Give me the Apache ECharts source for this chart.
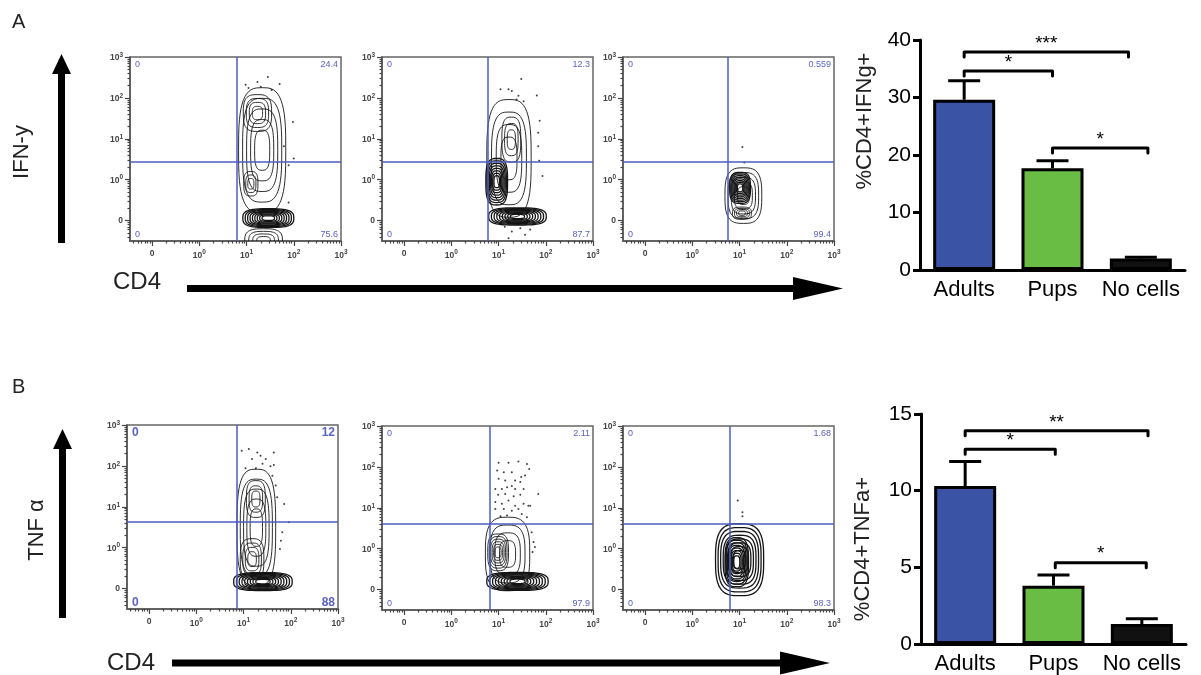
<!DOCTYPE html>
<html>
<head>
<meta charset="utf-8">
<title>CD4 IFN-γ / TNF α</title>
<script src="https://cdn.jsdelivr.net/npm/echarts@6.0.0/dist/echarts.min.js"></script>
<style>
  html, body { margin: 0; padding: 0; background: #fff; }
  #chart { width: 1201px; height: 675px; }
</style>
</head>
<body>
<div id="chart"></div>
<script>
// bar charts
var groups = ['Adults', 'Pups', 'No cells']
var ifngMean = [29.6, 17.7, 2.0]
var ifngErr = [3.3, 1.3, 0.2]
var tnfMean = [10.3, 3.8, 1.3]
var tnfErr = [1.6, 0.7, 0.35]
// [from category, to category, y]
var ifngSig = [[0, 1.86, 37.9], [0, 1, 34.6], [1, 2.08, 21.2]]
var ifngSigText = ['***', '*', '*']
var tnfSig = [[0, 2.07, 13.9], [0, 1.02, 12.7], [1.02, 2.05, 5.3]]
var tnfSigText = ['**', '*', '*']

// flow plots: axis position 0 -> "0", 1 -> 10^0 ... 4 -> 10^3
var flowTickPos = [0, 1, 2, 3, 4]
var flowTickExp = ['', '0', '1', '2', '3']
var decadeMinor = [0.301, 0.477, 0.602, 0.699, 0.778, 0.845, 0.903, 0.954]

// quadrant gates [x, y] and quadrant percents [UL, UR, LL, LR]
var gates = [[1.79, 1.45], [1.77, 1.45], [1.75, 1.45], [1.85, 1.63], [1.81, 1.6], [1.8, 1.6]]
var a1Quad = ['0', '24.4', '0', '75.6']
var a2Quad = ['0', '12.3', '0', '87.7']
var a3Quad = ['0', '0.559', '0', '99.4']
var b1Quad = ['0', '12', '0', '88']
var b2Quad = ['0', '2.11', '0', '97.9']
var b3Quad = ['0', '1.68', '0', '98.3']

// contour blobs [cx, cy, rx, ry, rings]
var a1Blobs = [[2.33, 1.72, 0.5, 1.53, 5], [2.23, 2.63, 0.3, 0.45, 4], [2.09, 0.9, 0.15, 0.3, 3], [2.46, 0.06, 0.54, 0.23, 9], [2.36, -0.5, 0.4, 0.3, 4]]
var a2Blobs = [[2.22, 1.52, 0.47, 1.44, 4], [2.27, 1.98, 0.2, 0.55, 3], [1.96, 0.95, 0.23, 0.57, 8], [2.4, 0.1, 0.61, 0.21, 9]]
var a3Blobs = [[2.08, 0.61, 0.39, 0.68, 5], [2.01, 0.8, 0.22, 0.38, 8], [2.05, 0.18, 0.2, 0.15, 4]]
var b1Blobs = [[2.27, 1.49, 0.41, 1.43, 5], [2.26, 2.19, 0.2, 0.45, 3], [2.18, 0.72, 0.25, 0.5, 4], [2.41, 0.17, 0.62, 0.22, 9]]
var b2Blobs = [[2.19, 0.87, 0.47, 0.9, 4], [1.99, 0.91, 0.22, 0.45, 6], [2.4, 0.2, 0.65, 0.22, 9]]
var b3Blobs = [[2.0, 0.73, 0.51, 0.88, 8], [1.94, 0.67, 0.25, 0.6, 8]]

// single events outside the contours
var a1Dots = [[1.98, 3.32], [2.23, 3.39], [2.45, 3.51], [2.7, 3.34], [2.04, 3.24], [2.3, 3.27], [2.53, 3.19], [2.98, 2.41], [2.79, 1.82], [3.0, 1.52], [2.89, 1.35], [2.89, 0.44]]
var a2Dots = [[2.48, 3.46], [2.21, 3.21], [2.28, 3.17], [2.42, 3.05], [2.53, 2.92], [2.81, 3.06], [2.87, 2.44], [2.84, 2.15], [2.84, 1.82], [2.86, 1.46], [2.93, 1.09], [2.13, -0.15], [2.28, -0.27], [2.46, -0.19], [2.56, -0.35], [2.21, -0.43], [2.67, -0.22], [2.04, 3.21], [2.38, 2.96]]
var a3Dots = [[2.06, 1.8], [2.1, 1.42]]
var b1Dots = [[1.96, 3.37], [2.11, 3.41], [2.29, 3.33], [2.36, 3.25], [2.47, 3.17], [2.64, 3.33], [2.18, 3.17], [2.4, 3.05], [2.57, 2.99], [2.64, 3.02], [2.04, 2.94], [2.26, 2.94], [2.61, 2.76], [2.68, 2.52], [2.71, 2.23], [2.86, 2.07], [2.82, 1.38], [2.79, 1.17], [2.77, 0.97], [2.96, 1.62]]
var b2Dots = [[2.0, 3.1], [2.21, 3.1], [2.42, 3.13], [2.6, 3.07], [1.97, 2.91], [2.11, 2.87], [2.28, 2.87], [2.48, 2.75], [2.56, 2.79], [2.65, 2.95], [2.0, 2.71], [2.14, 2.67], [2.35, 2.67], [2.46, 2.63], [1.93, 2.46], [2.07, 2.46], [2.18, 2.5], [2.28, 2.53], [2.35, 2.46], [2.53, 2.46], [1.99, 2.32], [2.14, 2.34], [2.32, 2.28], [2.46, 2.32], [2.84, 2.34], [1.93, 2.14], [2.07, 2.1], [2.21, 2.18], [2.35, 2.05], [2.53, 2.1], [2.63, 2.05], [2.11, 1.97], [2.28, 1.93], [2.42, 1.97], [1.93, 1.97], [2.04, 1.79], [2.18, 1.81], [2.49, 1.85], [2.6, 1.77], [2.67, 2.05], [2.7, 1.4], [2.74, 1.16], [2.77, 1.04], [2.72, 0.92]]
var b3Dots = [[1.96, 2.18], [2.06, 1.89], [2.06, 1.79]]

var chart = echarts.init(document.getElementById('chart'))

var flowGrids = [
  { left: 130, top: 57 }, { left: 382, top: 57 }, { left: 623, top: 57 },
  { left: 127, top: 425 }, { left: 382, top: 426 }, { left: 623, top: 426 },
]
var flowW = 211
var flowH = 184
var flowPlots = [
  { blobs: a1Blobs, dots: a1Dots, quad: a1Quad },
  { blobs: a2Blobs, dots: a2Dots, quad: a2Quad },
  { blobs: a3Blobs, dots: a3Dots, quad: a3Quad },
  { blobs: b1Blobs, dots: b1Dots, quad: b1Quad, bold: true },
  { blobs: b2Blobs, dots: b2Dots, quad: b2Quad },
  { blobs: b3Blobs, dots: b3Dots, quad: b3Quad },
]

var minorTicks = []
;[-1, 0, 1, 2, 3].forEach(function (d) {
  decadeMinor.forEach(function (m) {
    if (d + m > -0.47) minorTicks.push(d + m)
  })
})

function flowAxis(dim, i, minor) {
  var axis = {
    gridIndex: i,
    type: 'value',
    min: dim === 'x' ? -0.47 : -0.5,
    max: 4,
    position: dim === 'x' ? 'bottom' : 'left',
    splitLine: { show: false },
    axisLine: { show: !minor, onZero: false, lineStyle: { color: '#555', width: 1.5 } },
    axisTick: {
      show: true,
      customValues: minor ? minorTicks : flowTickPos,
      length: minor ? 2.5 : 5,
      lineStyle: { color: '#444', width: 1.2 },
    },
    axisLabel: { show: false },
  }
  if (!minor) {
    axis.axisLabel = {
      show: true,
      customValues: flowTickPos,
      formatter: function (v) {
        var e = flowTickExp[Math.round(v)]
        return e === '' ? '{b|0}' : '{b|10}{s|' + e + '}'
      },
      color: '#444',
      margin: dim === 'x' ? 8 : 7,
      rich: {
        b: { fontSize: 8.5, fontWeight: 'bold', color: '#444', verticalAlign: 'bottom' },
        s: { fontSize: 6.5, fontWeight: 'bold', color: '#444', verticalAlign: 'bottom', padding: [0, 0, 4, 0] },
      },
    }
  }
  return axis
}

function blobItem(params, api) {
  var c = api.coord([api.value(0), api.value(1)])
  var sz = api.size([api.value(2), api.value(3)])
  var n = api.value(4)
  var children = []
  for (var k = 0; k < n; k++) {
    var s = 1 - 0.85 * k / n
    var pts = []
    for (var a = 0; a < 56; a++) {
      var t = a / 56 * Math.PI * 2
      var ct = Math.cos(t)
      var st = Math.sin(t)
      pts.push([
        c[0] + sz[0] * s * Math.sign(ct) * Math.pow(Math.abs(ct), 0.65),
        c[1] - sz[1] * s * Math.sign(st) * Math.pow(Math.abs(st), 0.65),
      ])
    }
    children.push({
      type: 'polygon',
      shape: { points: pts },
      // dense populations look darker
      style: { fill: 'none', stroke: '#151515', lineWidth: n >= 8 ? 1.3 : 0.9 },
    })
  }
  return { type: 'group', children: children }
}

function errItem(params, api) {
  var base = api.coord([api.value(0), api.value(1)])
  var top = api.coord([api.value(0), api.value(2)])
  return {
    type: 'group',
    children: [
      { type: 'line', shape: { x1: base[0], y1: base[1], x2: top[0], y2: top[1] }, style: { stroke: '#000', lineWidth: 3 } },
      { type: 'line', shape: { x1: top[0] - 16, y1: top[1], x2: top[0] + 16, y2: top[1] }, style: { stroke: '#000', lineWidth: 3 } },
    ],
  }
}

function sigItem(labels) {
  return function (params, api) {
    var y = api.value(2)
    var c0 = api.coord([0, y])
    var c1 = api.coord([1, y])
    var step = c1[0] - c0[0]
    var xa = c0[0] + step * api.value(0)
    var xb = c0[0] + step * api.value(1)
    var yy = c0[1]
    return {
      type: 'group',
      children: [
        {
          type: 'polyline',
          shape: { points: [[xa, yy + 5], [xa, yy], [xb, yy], [xb, yy + 5]] },
          style: { stroke: '#000', lineWidth: 3, fill: 'none', lineJoin: 'round', lineCap: 'round' },
        },
        {
          type: 'text',
          style: {
            text: labels[params.dataIndex],
            x: (xa + xb) / 2,
            y: yy + 1,
            align: 'center',
            verticalAlign: 'bottom',
            textAlign: 'center',
            textVerticalAlign: 'bottom',
            font: '19px "Liberation Sans", Arial, sans-serif',
            fill: '#000',
          },
        },
      ],
    }
  }
}

var option = {
  animation: false,
  backgroundColor: '#fff',
  textStyle: { fontFamily: '"Liberation Sans", Arial, Helvetica, sans-serif' },
  grid: [],
  xAxis: [],
  yAxis: [],
  series: [],
  graphic: [],
}

var quadColor = '#5a63c2'
flowPlots.forEach(function (p, i) {
  var g = flowGrids[i]
  option.grid.push({
    left: g.left, top: g.top, width: flowW, height: flowH,
    show: true, borderColor: '#666', borderWidth: 1.5,
  })
  option.xAxis.push(flowAxis('x', i, false), flowAxis('x', i, true))
  option.yAxis.push(flowAxis('y', i, false), flowAxis('y', i, true))
  option.series.push({
    type: 'custom',
    xAxisIndex: 2 * i,
    yAxisIndex: 2 * i,
    data: p.blobs,
    renderItem: blobItem,
    clip: true,
    silent: true,
  })
  option.series.push({
    type: 'scatter',
    xAxisIndex: 2 * i,
    yAxisIndex: 2 * i,
    data: p.dots,
    symbolSize: 2,
    itemStyle: { color: '#111' },
    silent: true,
    markLine: {
      silent: true,
      symbol: ['none', 'none'],
      label: { show: false },
      lineStyle: { color: '#4c5cc0', width: 1.5, type: 'solid' },
      data: [{ xAxis: gates[i][0] }, { yAxis: gates[i][1] }],
    },
  })
  var fs = p.bold ? 12 : 9
  var fw = p.bold ? 'bold' : 'normal'
  var pos = [
    [g.left + 5, g.top + 8, 'left'],
    [g.left + flowW - 3, g.top + 8, 'right'],
    [g.left + 5, g.top + flowH - 6, 'left'],
    [g.left + flowW - 3, g.top + flowH - 6, 'right'],
  ]
  p.quad.forEach(function (txt, q) {
    option.graphic.push({
      type: 'text',
      x: pos[q][0],
      y: pos[q][1],
      style: {
        text: txt, fill: quadColor, fontSize: fs, fontWeight: fw,
        align: pos[q][2], verticalAlign: 'middle',
        fontFamily: '"Liberation Sans", Arial, sans-serif',
      },
    })
  })
})

// bar charts
var barColors = ['#3a53a4', '#69bd45', '#111111']
var barSets = [
  { mean: ifngMean, err: ifngErr, sig: ifngSig, sigText: ifngSigText, max: 40, interval: 10, grid: { left: 920, top: 40 } },
  { mean: tnfMean, err: tnfErr, sig: tnfSig, sigText: tnfSigText, max: 15, interval: 5, grid: { left: 921, top: 414 } },
]
barSets.forEach(function (b, j) {
  var gi = 6 + j
  var ai = 12 + j
  option.grid.push({ left: b.grid.left, top: b.grid.top, width: 265, height: 230 })
  option.xAxis.push({
    gridIndex: gi,
    type: 'category',
    data: groups,
    axisLine: { lineStyle: { color: '#000', width: 3 } },
    axisTick: { alignWithLabel: true, length: 6, lineStyle: { color: '#000', width: 3 } },
    axisLabel: { fontSize: 22, color: '#000', margin: 9, interval: 0, hideOverlap: false },
  })
  option.yAxis.push({
    gridIndex: gi,
    type: 'value',
    min: 0,
    max: b.max,
    interval: b.interval,
    axisLine: { show: true, lineStyle: { color: '#000', width: 3 } },
    axisTick: { show: true, length: 7, lineStyle: { color: '#000', width: 3 } },
    axisLabel: { fontSize: 21, color: '#000', margin: 9 },
    splitLine: { show: false },
  })
  option.series.push({
    type: 'bar',
    xAxisIndex: ai,
    yAxisIndex: ai,
    barWidth: 62,
    data: b.mean.map(function (v, k) {
      return { value: v, itemStyle: { color: barColors[k] } }
    }),
    itemStyle: { borderColor: '#000', borderWidth: 3 },
    silent: true,
  })
  option.series.push({
    type: 'custom',
    xAxisIndex: ai,
    yAxisIndex: ai,
    data: b.mean.map(function (m, k) {
      return [k, m, m + b.err[k]]
    }),
    encode: { x: 0, y: [1, 2] },
    renderItem: errItem,
    silent: true,
  })
  option.series.push({
    type: 'custom',
    xAxisIndex: ai,
    yAxisIndex: ai,
    data: b.sig,
    encode: { x: [0, 1], y: 2 },
    renderItem: sigItem(b.sigText),
    silent: true,
  })
})

// panel letters, axis names, arrows
var font = '"Liberation Sans", Arial, sans-serif'
function txt(text, x, y, size, rot, align) {
  return {
    type: 'text', x: x, y: y, rotation: rot || 0,
    style: { text: text, fontSize: size, fill: '#222', fontFamily: font, align: align || 'center', verticalAlign: 'middle' },
  }
}
option.graphic.push(
  txt('A', 12, 22, 20, 0, 'left'),
  txt('B', 12, 387, 20, 0, 'left'),
  txt('IFN-y', 22, 152, 22, Math.PI / 2),
  txt('TNF α', 37, 530, 22, Math.PI / 2),
  txt('CD4', 113, 282, 24, 0, 'left'),
  txt('CD4', 107, 663, 24, 0, 'left'),
  txt('%CD4+IFNg+', 865, 121, 22, Math.PI / 2),
  txt('%CD4+TNFa+', 863, 549, 22, Math.PI / 2),
  // vertical arrows
  { type: 'rect', shape: { x: 58, y: 70, width: 7, height: 173 }, style: { fill: '#000' } },
  { type: 'polygon', shape: { points: [[61.5, 54], [52, 74], [71, 74]] }, style: { fill: '#000' } },
  { type: 'rect', shape: { x: 59, y: 445, width: 7, height: 173 }, style: { fill: '#000' } },
  { type: 'polygon', shape: { points: [[62.5, 429], [53, 449], [72, 449]] }, style: { fill: '#000' } },
  // horizontal arrows
  { type: 'rect', shape: { x: 187, y: 285, width: 610, height: 7 }, style: { fill: '#000' } },
  { type: 'polygon', shape: { points: [[843, 288.5], [793, 277], [793, 300]] }, style: { fill: '#000' } },
  { type: 'rect', shape: { x: 172, y: 659.5, width: 612, height: 7 }, style: { fill: '#000' } },
  { type: 'polygon', shape: { points: [[830, 663], [780, 651.5], [780, 674.5]] }, style: { fill: '#000' } }
)

chart.setOption(option)
</script>
</body>
</html>
